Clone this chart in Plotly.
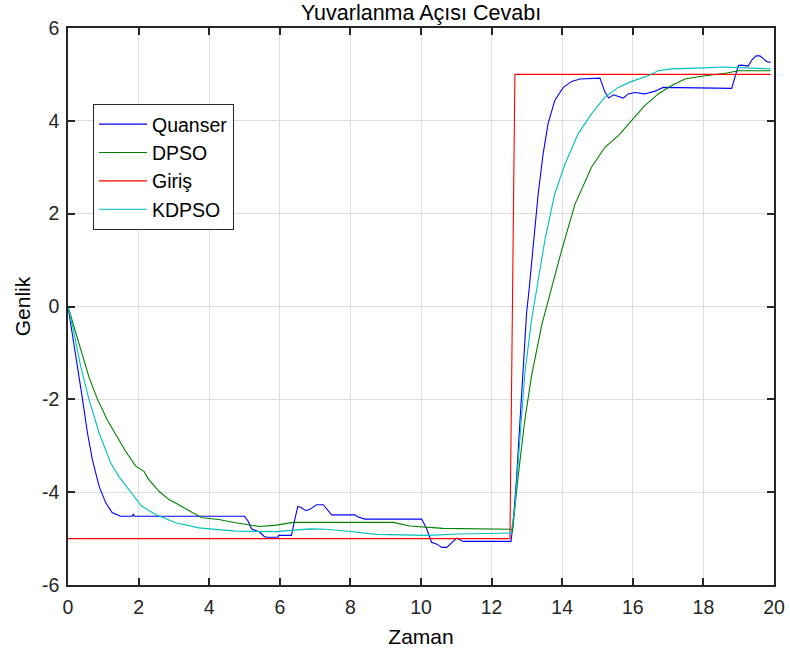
import plotly.graph_objects as go

# ---- data ----
quanser_x = [0, 0.12, 0.26, 0.41, 0.55, 0.69, 0.88, 1.07, 1.25, 1.49, 1.82, 1.85, 1.88,
             5.0, 5.1, 5.2, 5.43, 5.55, 5.62, 5.95, 5.97, 6.33, 6.42, 6.51, 6.6, 6.74, 6.85,
             7.04, 7.23, 7.47, 8.13, 8.2, 8.41, 10.02, 10.16, 10.3, 10.45, 10.59, 10.73,
             10.85, 11.01, 11.2, 12.55, 12.61, 12.71, 12.8, 12.9, 12.99, 13.06, 13.18, 13.32,
             13.46, 13.6, 13.79, 14.03, 14.27, 14.5, 15.07, 15.21, 15.32, 15.45, 15.73, 15.87,
             16.06, 16.34, 16.63, 16.86, 18.8, 18.9, 18.99, 19.08, 19.27, 19.37, 19.49, 19.6,
             19.7, 19.79, 19.9]
quanser_y = [0, -0.57, -1.29, -1.99, -2.72, -3.3, -3.87, -4.23, -4.44, -4.52, -4.52, -4.47, -4.52,
             -4.52, -4.62, -4.79, -4.86, -4.95, -4.97, -4.97, -4.93, -4.93, -4.6, -4.31, -4.33, -4.40, -4.37,
             -4.27, -4.27, -4.49, -4.49, -4.53, -4.58, -4.58, -4.79, -5.08, -5.12, -5.19, -5.19,
             -5.1, -4.99, -5.06, -5.06, -4.67, -3.67, -2.52, -1.23, -0.15, 0.35, 1.28, 2.43,
             3.29, 3.94, 4.44, 4.72, 4.85, 4.9, 4.92, 4.62, 4.49, 4.56, 4.49, 4.58,
             4.61, 4.58, 4.64, 4.72, 4.70, 4.94, 5.19, 5.2, 5.18, 5.31, 5.4, 5.4,
             5.33, 5.28, 5.26]

dpso_x = [0, 0.22, 0.41, 0.59, 0.83, 1.11, 1.44, 1.63, 1.92, 2.15, 2.29, 2.58, 2.86, 3.14,
          3.52, 3.8, 4.27, 4.75, 5.43, 5.9, 6.38, 9.21, 9.68, 10.63, 12.55, 12.59, 12.75,
          12.94, 13.13, 13.42, 13.7, 13.98, 14.36, 14.83, 15.21, 15.59, 15.97, 16.34, 16.72,
          17.1, 17.48, 17.85, 18.66, 18.99, 19.9]
dpso_y = [0, -0.57, -1.08, -1.51, -1.99, -2.44, -2.87, -3.12, -3.44, -3.55, -3.73, -3.98, -4.16, -4.27,
          -4.44, -4.55, -4.59, -4.66, -4.74, -4.71, -4.65, -4.65, -4.73, -4.78, -4.8, -4.85, -3.67,
          -2.45, -1.5, -0.4, 0.4, 1.2, 2.2, 3.0, 3.43, 3.68, 4.01, 4.33, 4.58,
          4.76, 4.9, 4.95, 5.03, 5.08, 5.08]

giris_x = [0, 12.52, 12.66, 19.9]
giris_y = [-5, -5, 5, 5]

kdpso_x = [0, 0.17, 0.36, 0.59, 0.88, 1.21, 1.44, 1.73, 2.08, 2.48, 3.05, 3.71, 4.18, 4.75,
           5.9, 6.4, 6.85, 7.3, 7.79, 8.74, 10.16, 11.1, 12.55, 12.56, 12.66, 12.8, 12.94,
           13.13, 13.3, 13.51, 13.79, 14.08, 14.45, 14.83, 15.21, 15.59, 15.97, 16.44, 16.72,
           17.1, 18.04, 18.58, 19.9]
kdpso_y = [0, -0.57, -1.29, -1.99, -2.72, -3.37, -3.66, -3.94, -4.3, -4.48, -4.66, -4.77, -4.8, -4.84,
           -4.85, -4.82, -4.79, -4.8, -4.83, -4.91, -4.93, -4.9, -4.88, -4.85, -4.31, -2.87, -1.45,
           -0.3, 0.5, 1.43, 2.43, 3.07, 3.72, 4.15, 4.51, 4.72, 4.85, 4.97, 5.08,
           5.12, 5.14, 5.16, 5.12]

x_ticks = [0, 2, 4, 6, 8, 10, 12, 14, 16, 18, 20]
x_ticktext = ["0", "2", "4", "6", "8", "10", "12", "14", "16", "18", "20"]
y_ticks = [-6, -4, -2, 0, 2, 4, 6]
y_ticktext = ["-6", "-4", "-2", "0", "2", "4", "6"]

FONT = "Liberation Sans, Arial, sans-serif"
AX = "#262626"

fig = go.Figure()
series = [
    ("Quanser", quanser_x, quanser_y, "#0000FF"),
    ("DPSO", dpso_x, dpso_y, "#008000"),
    ("Giriş", giris_x, giris_y, "#FF0000"),
    ("KDPSO", kdpso_x, kdpso_y, "#00BFBF"),
]
for name, xs, ys, col in series:
    fig.add_trace(go.Scatter(x=xs, y=ys, mode="lines", name=name,
                             line=dict(color=col, width=1.1)))

axis_common = dict(
    showline=True, linecolor=AX, linewidth=1.5, mirror="ticks",
    ticks="inside", ticklen=7, tickwidth=1.5, tickcolor=AX,
    showgrid=True, gridcolor="#dedede", gridwidth=1, zeroline=False,
    automargin=False,
    tickfont=dict(family=FONT, size=19.5, color=AX),
)

fig.update_layout(
    width=790, height=660,
    margin=dict(l=68, r=16, t=28, b=75),
    paper_bgcolor="white", plot_bgcolor="white",
    title=dict(text="Yuvarlanma Açısı Cevabı", x=0.533, xanchor="center",
               y=0.981, yanchor="middle",
               font=dict(family=FONT, size=21.5, color="black")),
    xaxis=dict(range=[0, 20], tickvals=x_ticks, ticktext=x_ticktext,
               ticklabelstandoff=4,
               title=dict(text="Zaman", font=dict(family=FONT, size=21, color="black"), standoff=12),
               **axis_common),
    yaxis=dict(range=[-6, 6], tickvals=y_ticks, ticktext=y_ticktext,
               ticklabelstandoff=3,
               title=dict(text="Genlik", font=dict(family=FONT, size=21, color="black"), standoff=6),
               **axis_common),
    legend=dict(x=0.0354, y=0.8636, xanchor="left", yanchor="top",
                bgcolor="white", bordercolor=AX, borderwidth=1, itemwidth=48,
                font=dict(family=FONT, size=19.5, color="black")),
    showlegend=True,
)

fig.write_html("out.html", config={"displayModeBar": False},
               post_script="document.body.style.margin='0';")
